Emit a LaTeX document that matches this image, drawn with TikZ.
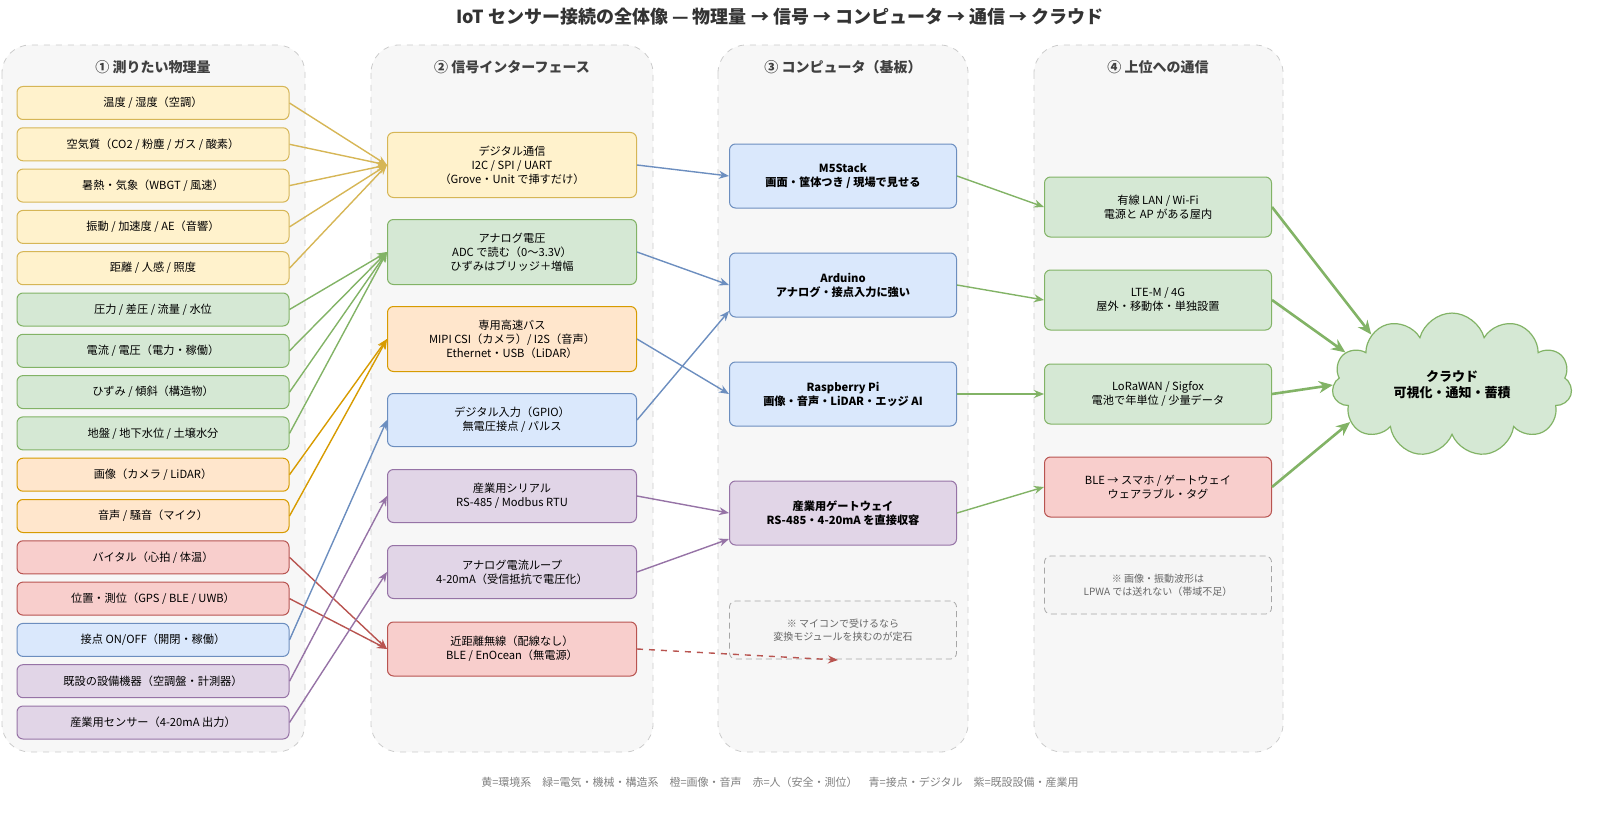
\documentclass[tikz,border=0pt]{standalone}
\usepackage{fontspec}
\setmainfont{Noto Sans CJK JP}
\usetikzlibrary{arrows.meta,shapes.symbols}
\definecolor{yelF}{HTML}{FFF2CC}\definecolor{yelD}{HTML}{D6B656}
\definecolor{grnF}{HTML}{D5E8D4}\definecolor{grnD}{HTML}{82B366}
\definecolor{orgF}{HTML}{FFE6CC}\definecolor{orgD}{HTML}{D79B00}
\definecolor{redF}{HTML}{F8CECC}\definecolor{redD}{HTML}{B85450}
\definecolor{bluF}{HTML}{DAE8FC}\definecolor{bluD}{HTML}{6C8EBF}
\definecolor{purF}{HTML}{E1D5E7}\definecolor{purD}{HTML}{9673A6}
\tikzset{
  box/.style={draw, rounded corners=3pt, line width=0.5pt, align=center, inner sep=1pt},
  yel/.style={box, fill=yelF, draw=yelD}, grn/.style={box, fill=grnF, draw=grnD},
  org/.style={box, fill=orgF, draw=orgD}, red/.style={box, fill=redF, draw=redD},
  blu/.style={box, fill=bluF, draw=bluD}, pur/.style={box, fill=purF, draw=purD},
  lane/.style={draw=black!20, dashed, fill=black!3, rounded corners=14pt, line width=0.4pt},
  lanetitle/.style={font=\fontsize{7}{8}\selectfont\bfseries, text=black!75},
  note/.style={draw=black!35, densely dashed, fill=black!4, rounded corners=3pt, align=center,
    text=black!60, font=\fontsize{5}{6.5}\selectfont, minimum width=113.5pt, minimum height=29pt},
  link/.style={-{Stealth[length=5pt,width=4pt]}, line width=0.7pt},
  big/.style={-{Stealth[length=7pt,width=6pt]}, line width=1.3pt, draw=grnD},
}
\begin{document}
\begin{tikzpicture}[x=0.5pt, y=-0.5pt, font=\fontsize{5.6}{7}\selectfont]
\useasboundingbox (0,0) rectangle (1600,813);
% lanes
\draw[lane] (2,45) rectangle (305,752);
\draw[lane] (371,45) rectangle (653,752);
\draw[lane] (718,45) rectangle (968,752);
\draw[lane] (1034,45) rectangle (1283,752);
\node[lanetitle] at (153,67) {① 測りたい物理量};
\node[lanetitle] at (512,67) {② 信号インターフェース};
\node[lanetitle] at (843,67) {③ コンピュータ（基板）};
\node[lanetitle] at (1158,67) {④ 上位への通信};
\node[font=\fontsize{9}{10}\selectfont\bfseries, text=black!80] (title) at (780,17)
  {IoT センサー接続の全体像 — 物理量 → 信号 → コンピュータ → 通信 → クラウド};

% physical quantities
\foreach \i/\s/\t in {1/yel/{温度 / 湿度（空調）}, 2/yel/{空気質（CO2 / 粉塵 / ガス / 酸素）},
  3/yel/{暑熱・気象（WBGT / 風速）}, 4/yel/{振動 / 加速度 / AE（音響）}, 5/yel/{距離 / 人感 / 照度},
  6/grn/{圧力 / 差圧 / 流量 / 水位}, 7/grn/{電流 / 電圧（電力・稼働）}, 8/grn/{ひずみ / 傾斜（構造物）},
  9/grn/{地盤 / 地下水位 / 土壌水分}, 10/org/{画像（カメラ / LiDAR）}, 11/org/{音声 / 騒音（マイク）},
  12/red/{バイタル（心拍 / 体温）}, 13/red/{位置・測位（GPS / BLE / UWB）}, 14/blu/{接点 ON/OFF（開閉・稼働）},
  15/pur/{既設の設備機器（空調盤・計測器）}, 16/pur/{産業用センサー（4-20mA 出力）}}
  \node[\s, minimum width=136pt, minimum height=16.5pt] (p\i) at (153,{103+(\i-1)*41.3}) {\t};

% interfaces
\tikzset{iface/.style={minimum width=124.5pt}}
\node[yel, iface, minimum height=32.5pt] (dig) at (512,165) {デジタル通信\\I2C / SPI / UART\\（Grove・Unit で挿すだけ）};
\node[grn, iface, minimum height=32.5pt] (ana) at (512,252) {アナログ電圧\\ADC で読む（0〜3.3V）\\ひずみはブリッジ＋増幅};
\node[org, iface, minimum height=32.5pt] (fast) at (512,339) {専用高速バス\\MIPI CSI（カメラ）/ I2S（音声）\\Ethernet・USB（LiDAR）};
\node[blu, iface, minimum height=26.5pt] (gpio) at (512,420) {デジタル入力（GPIO）\\無電圧接点 / パルス};
\node[pur, iface, minimum height=26.5pt] (ser) at (512,496) {産業用シリアル\\RS-485 / Modbus RTU};
\node[pur, iface, minimum height=26.5pt] (loop) at (512,572) {アナログ電流ループ\\4-20mA（受信抵抗で電圧化）};
\node[red, iface, minimum height=27pt] (wl) at (512,649) {近距離無線（配線なし）\\BLE / EnOcean（無電源）};

% computers
\tikzset{cpu/.style={minimum width=113.5pt, minimum height=32pt, font=\fontsize{5.6}{7}\selectfont\bfseries}}
\node[blu, cpu] (m5) at (843,176) {M5Stack\\画面・筐体つき / 現場で見せる};
\node[blu, cpu] (ard) at (843,285) {Arduino\\アナログ・接点入力に強い};
\node[blu, cpu] (rpi) at (843,394) {Raspberry Pi\\画像・音声・LiDAR・エッジ AI};
\node[pur, cpu] (gw) at (843,513) {産業用ゲートウェイ\\RS-485・4-20mA を直接収容};
\node[note] (mcu) at (843,630) {※ マイコンで受けるなら\\変換モジュールを挟むのが定石};
\coordinate (wlend) at (838,660);

% uplinks
\tikzset{up/.style={minimum width=113.5pt, minimum height=30pt}}
\node[grn, up] (lan) at (1158,207) {有線 LAN / Wi-Fi\\電源と AP がある屋内};
\node[grn, up] (lte) at (1158,300) {LTE-M / 4G\\屋外・移動体・単独設置};
\node[grn, up] (lora) at (1158,394) {LoRaWAN / Sigfox\\電池で年単位 / 少量データ};
\node[red, up] (ble) at (1158,487) {BLE → スマホ / ゲートウェイ\\ウェアラブル・タグ};
\node[note] (lpwa) at (1158,585) {※ 画像・振動波形は\\LPWA では送れない（帯域不足）};

\node[cloud, cloud puffs=11, aspect=1.7, draw=grnD, fill=grnF, line width=0.6pt,
  minimum width=120pt, minimum height=70pt, align=center,
  font=\fontsize{6.5}{8}\selectfont\bfseries] (cloud) at (1452,385) {クラウド\\可視化・通知・蓄積};

% connectors
\foreach \i in {1,...,5} \draw[link, yelD] (p\i.east) -- (dig.west);
\foreach \i in {6,...,9} \draw[link, grnD] (p\i.east) -- (ana.west);
\foreach \i in {10,11} \draw[link, orgD] (p\i.east) -- (fast.west);
\foreach \i in {12,13} \draw[link, redD] (p\i.east) -- (wl.west);
\draw[link, bluD] (p14.east) -- (gpio.west);
\draw[link, purD] (p15.east) -- (ser.west);
\draw[link, purD] (p16.east) -- (loop.west);
\draw[link, bluD] (dig.east) -- (m5.west);
\draw[link, bluD] (ana.east) -- (ard.west);
\draw[link, bluD] (gpio.east) -- ([yshift=-13pt]ard.west);
\draw[link, bluD] (fast.east) -- (rpi.west);
\draw[link, purD] (ser.east) -- (gw.west);
\draw[link, purD] (loop.east) -- ([yshift=-13pt]gw.west);
\draw[link, redD, dashed] (wl.east) -- (wlend);
\draw[link, grnD] (m5.east) -- (lan.west);
\draw[link, grnD] (ard.east) -- (lte.west);
\draw[link, grnD] (rpi.east) -- (lora.west);
\draw[link, grnD] (gw.east) -- (ble.west);
\draw[big] (lan.east) -- (cloud.148);
\draw[big] (lte.east) -- (cloud.163);
\draw[big] (lora.east) -- (cloud.180);
\draw[big] (ble.east) -- (cloud.200);

\node[text=black!50, font=\fontsize{5.5}{7}\selectfont] (legend) at (780,782)
  {黄=環境系\quad 緑=電気・機械・構造系\quad 橙=画像・音声\quad 赤=人（安全・測位）\quad 青=接点・デジタル\quad 紫=既設設備・産業用};
\end{tikzpicture}
\end{document}
